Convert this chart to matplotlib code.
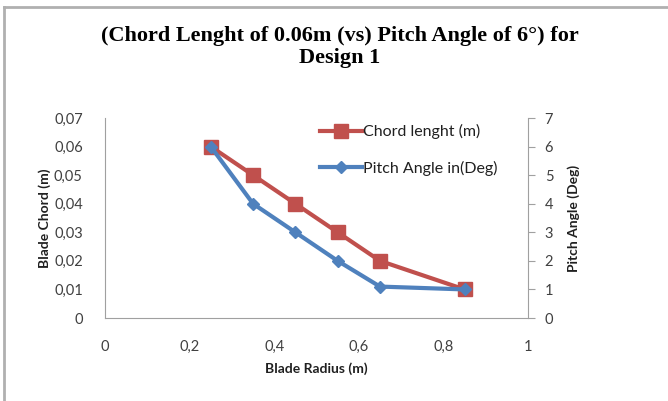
import matplotlib.pyplot as plt
from matplotlib.lines import Line2D
from matplotlib.ticker import FuncFormatter

radius = [0.25, 0.35, 0.45, 0.55, 0.65, 0.85]
chord = [0.06, 0.05, 0.04, 0.03, 0.02, 0.01]
pitch = [6, 4, 3, 2, 1.1, 1.0]

red = '#C0504D'
blue = '#4F81BD'
grey = '#A0A0A0'
txt = '#404040'
font = 'Lato'

fig = plt.figure(figsize=(6.68, 4.01), dpi=100)
# partial frame of the chart area (top and left only)
fig.add_artist(Line2D([4/668, 4/668], [0, 1 - 7/401], color='#B0B0B0', lw=2))
fig.add_artist(Line2D([4/668, 1], [1 - 7/401, 1 - 7/401], color='#B0B0B0', lw=2))

ax = fig.add_axes([105/668, 1 - 318/401, 423/668, 200/401])
ax2 = ax.twinx()

ax.plot(radius, chord, color=red, lw=3, marker='s', ms=9.5, label='Chord lenght (m)', zorder=2)
ax2.plot(radius, pitch, color=blue, lw=3, marker='D', ms=6.5, label='Pitch Angle in(Deg)', zorder=3)

ax.set_xlim(0, 1)
ax.set_ylim(0, 0.07)
ax2.set_ylim(0, 7)
ax.set_xticks([0, 0.2, 0.4, 0.6, 0.8, 1])
ax.set_yticks([0, 0.01, 0.02, 0.03, 0.04, 0.05, 0.06, 0.07])
ax2.set_yticks(range(8))
ax.xaxis.set_major_formatter(FuncFormatter(lambda v, p: ('%g' % v).replace('.', ',')))
ax.yaxis.set_major_formatter(FuncFormatter(lambda v, p: '0' if v == 0 else ('%.2f' % v).replace('.', ',')))

for a in (ax, ax2):
    for s in a.spines.values():
        s.set_visible(False)
ax.spines['left'].set_visible(True)
ax.spines['bottom'].set_visible(True)
ax2.spines['right'].set_visible(True)
for s in ('left', 'bottom'):
    ax.spines[s].set_color(grey)
ax2.spines['right'].set_color(grey)

ax.tick_params(axis='both', length=0, labelsize=10.5, labelcolor=txt)
ax.tick_params(axis='x', pad=16)
ax.tick_params(axis='y', pad=16)
ax2.tick_params(axis='y', length=5, color=grey, labelsize=10.5, labelcolor=txt, pad=7)
for lab in ax.get_xticklabels() + ax.get_yticklabels() + ax2.get_yticklabels():
    lab.set_family(font)

ax.set_xlabel('Blade Radius (m)', family=font, fontsize=10, fontweight='bold', color='#202020', labelpad=6)
ax.set_ylabel('Blade Chord (m)', family=font, fontsize=10, fontweight='bold', color='#202020', labelpad=2)
ax2.set_ylabel('Pitch Angle (Deg)', family=font, fontsize=10, fontweight='bold', color='#202020', labelpad=10)

fig.text(340/668, 1 - 47/401, '(Chord Lenght of 0.06m (vs) Pitch Angle of 6°) for\nDesign 1',
         ha='center', va='center', family='Liberation Serif', fontsize=16, fontweight='bold',
         linespacing=1.1)

h1, l1 = ax.get_legend_handles_labels()
h2, l2 = ax2.get_legend_handles_labels()
leg = ax2.legend(h1 + h2, l1 + l2, loc='upper left', bbox_to_anchor=(0.475, 1.04), frameon=False,
                 prop={'family': font, 'size': 11.5}, handlelength=2.6, labelspacing=1.35,
                 handletextpad=0.1)
for t in leg.get_texts():
    t.set_color('#202020')

fig.savefig('out.png', dpi=100)
